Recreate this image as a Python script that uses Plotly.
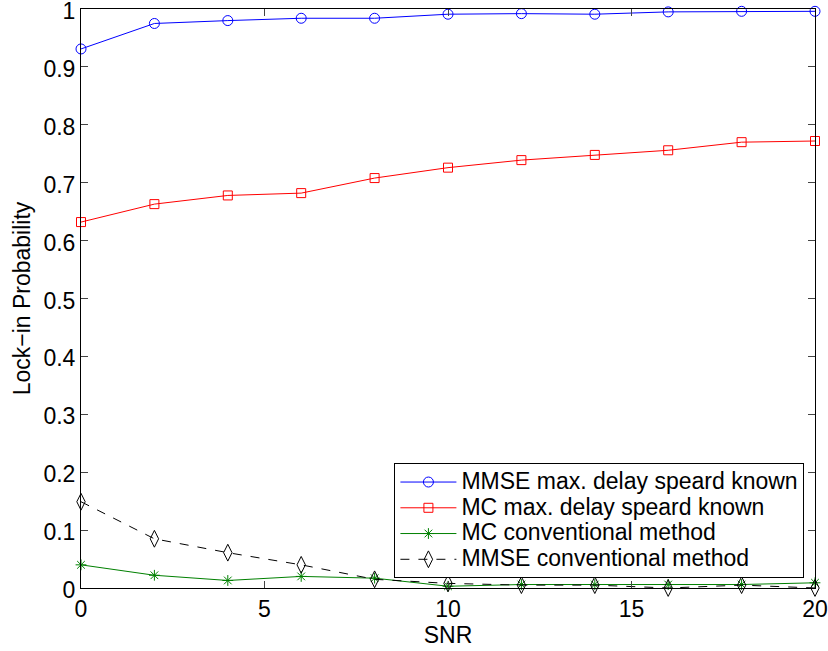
import plotly.graph_objects as go

snr = [0, 2, 4, 6, 8, 10, 12, 14, 16, 18, 20]
mmse_known = [0.931, 0.975, 0.980, 0.984, 0.984, 0.991, 0.992, 0.991, 0.995, 0.996, 0.996]
mc_known = [0.632, 0.663, 0.678, 0.682, 0.708, 0.726, 0.739, 0.748, 0.756, 0.770, 0.772]
mc_conv = [0.040, 0.022, 0.013, 0.020, 0.017, 0.003, 0.006, 0.006, 0.006, 0.006, 0.009]
mmse_conv = [0.149, 0.085, 0.061, 0.040, 0.015, 0.008, 0.005, 0.005, 0.000, 0.005, 0.000]

names = ["MMSE max. delay speard known", "MC max. delay speard known",
         "MC conventional method", "MMSE conventional method"]
xticks = [0, 5, 10, 15, 20]
yticks = [0, 0.1, 0.2, 0.3, 0.4, 0.5, 0.6, 0.7, 0.8, 0.9, 1]
ytick_labels = ["0", "0.1", "0.2", "0.3", "0.4", "0.5", "0.6", "0.7", "0.8", "0.9", "1"]

fig = go.Figure()
styles = [
    (mmse_known, "#0000ff", "circle-open", 10, "solid"),
    (mc_known, "#ff0000", "square-open", 9, "solid"),
    (mc_conv, "#008000", "asterisk-open", 9, "solid"),
    (mmse_conv, "#000000", "diamond-tall-open", 12, "dash"),
]
for (ys, col, sym, sz, dash), nm in zip(styles, names):
    fig.add_trace(go.Scatter(
        x=snr, y=ys, name='<span style="font-size:23px">' + nm + '</span>',
        mode="lines+markers",
        line=dict(color=col, width=1, dash=dash),
        marker=dict(symbol=sym, size=sz, color=col, line=dict(width=1, color=col)),
        cliponaxis=False,
    ))

fig.update_layout(
    width=828, height=651,
    margin=dict(l=81, r=13, t=9, b=63),
    paper_bgcolor="white", plot_bgcolor="white",
    font=dict(family="Liberation Sans, Arial, sans-serif", size=23, color="black"),
    showlegend=True,
    legend=dict(x=0.427, y=0.017, xanchor="left", yanchor="bottom",
                bordercolor="black", borderwidth=1, bgcolor="white",
                font=dict(size=17.5), tracegroupgap=0, itemwidth=56),
    xaxis=dict(range=[0, 20], tickvals=xticks, ticks="inside", ticklen=7,
               showline=True, linecolor="black", linewidth=1, mirror="allticks",
               showgrid=False, zeroline=False, automargin=False,
               ticklabeloverflow="allow", tickfont=dict(size=23),
               title=dict(text="SNR", font=dict(size=23), standoff=6)),
    yaxis=dict(range=[0, 1], tickvals=yticks, ticktext=ytick_labels,
               ticks="inside", ticklen=7,
               showline=True, linecolor="black", linewidth=1, mirror="allticks",
               showgrid=False, zeroline=False, automargin=False,
               ticklabeloverflow="allow", ticklabelshift=2, tickfont=dict(size=23),
               title=dict(text="Lock\u2212in Probability", font=dict(size=23), standoff=6)),
)

fig.write_html("out.html")
